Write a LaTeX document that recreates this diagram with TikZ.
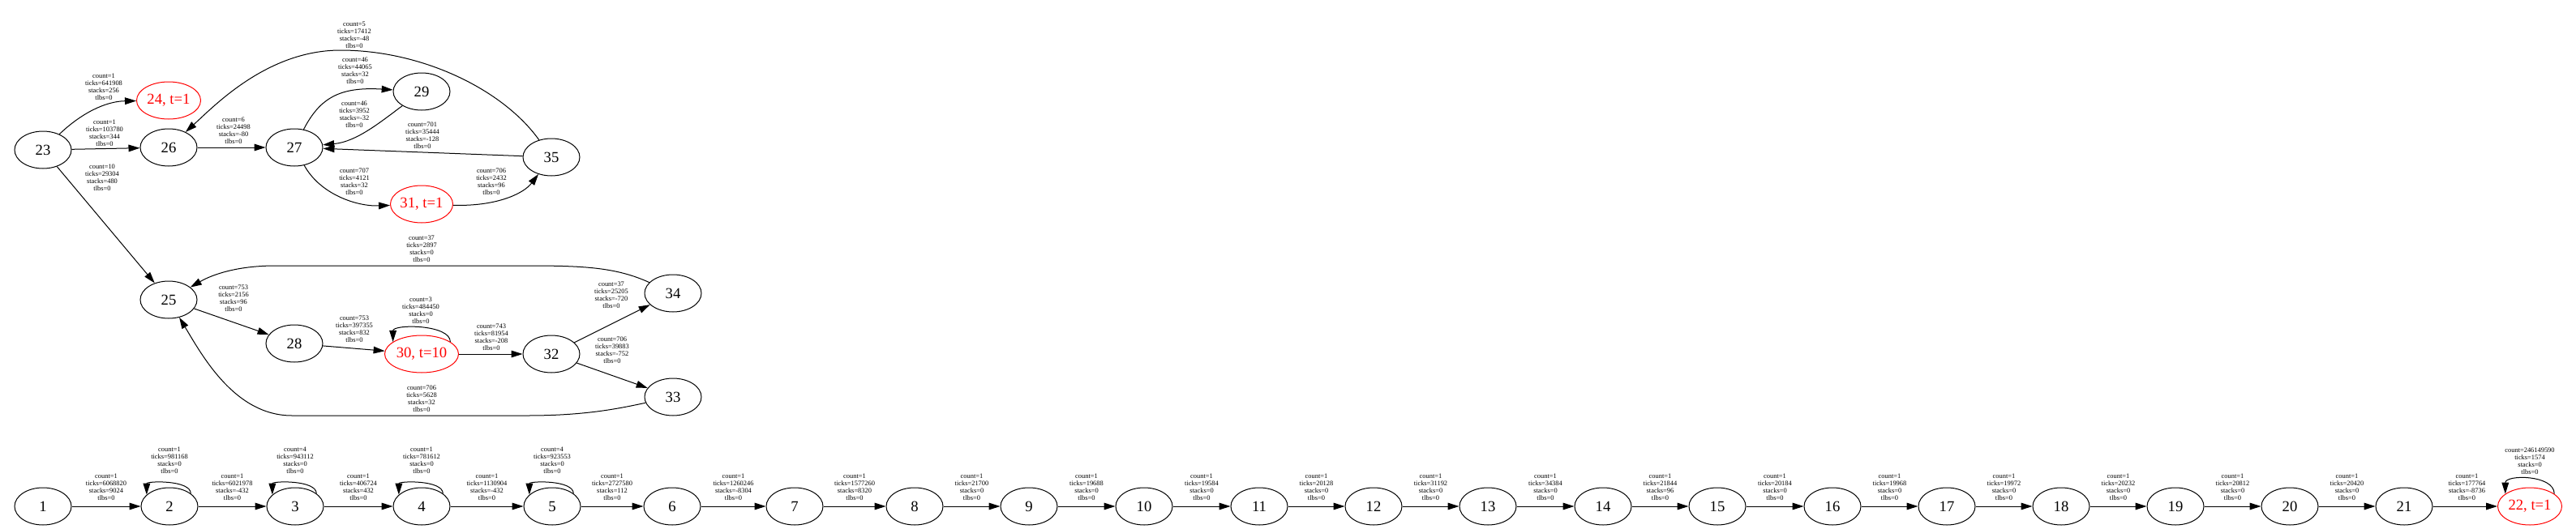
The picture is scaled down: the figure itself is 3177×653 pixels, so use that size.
\documentclass[tikz,border=0pt]{standalone}
\usepackage{fontspec}
\setmainfont{Liberation Serif}
\usetikzlibrary{shapes.geometric,arrows.meta,calc}
\newcommand{\elab}[3]{count=#1\\ticks=#2\\stacks=#3\\tlbs=0}
\tikzset{
  nd/.style={ellipse, draw, line width=0.75pt, minimum width=52.5pt, minimum height=34.5pt, inner sep=0pt, font=\fontsize{14}{16}\selectfont},
  rd/.style={nd, draw=red, text=red},
  lab/.style={align=center, inner sep=0pt, font=\fontsize{6.3}{6.8}\selectfont},
  edge/.style={draw, line width=0.75pt, -{Triangle[length=10.5pt,width=6.5pt]}}
}
\begin{document}
\begin{tikzpicture}[x=0.75pt,y=-0.75pt]
\useasboundingbox (0,0) rectangle (3177,653);
% ---------- upper graph ----------
\node[nd] (n23) at (53,185) {23};
\node[rd, minimum width=59.25pt] (n24) at (208,124) {24, t=1};
\node[nd] (n26) at (208,182) {26};
\node[nd] (n27) at (363,182) {27};
\node[nd] (n29) at (520,113) {29};
\node[nd] (n35) at (680,194) {35};
\node[rd, minimum width=57.75pt] (n31) at (520,252) {31, t=1};
\node[nd] (n25) at (208,370) {25};
\node[nd] (n28) at (363,424) {28};
\node[rd, minimum width=68.25pt] (n30) at (520,437) {30, t=10};
\node[nd] (n32) at (680,437) {32};
\node[nd] (n34) at (830,362) {34};
\node[nd] (n33) at (830,490) {33};

\draw[edge] (n23) .. controls (100,140) and (130,125) .. (n24);
\draw[edge] (n23) -- (n26);
\draw[edge] (n23) -- (n25);
\draw[edge] (n26) -- (n27);
\draw[edge] (n35) .. controls (620,110) and (520,62) .. (420,62) .. controls (330,62) and (265,130) .. (n26);
\draw[edge] (n27) .. controls (395,120) and (420,107) .. (n29);
\draw[edge] (n29) .. controls (470,150) and (440,175) .. (n27);
\draw[edge] (n35) -- (n27);
\draw[edge] (n27) .. controls (395,240) and (440,255) .. (n31);
\draw[edge] (n31) .. controls (610,255) and (645,240) .. (n35);
\draw[edge] (n34) .. controls (760,330) and (720,328) .. (650,328) -- (340,328) .. controls (290,328) and (260,340) .. (n25);
\draw[edge] (n25) -- (n28);
\draw[edge] (n28) -- (n30);
\draw[edge] (n30.23) .. controls +(0,-22) and +(0,-22) .. (n30.157);
\draw[edge] (n30) -- (n32);
\draw[edge] (n32) -- (n34);
\draw[edge] (n32) -- (n33);
\draw[edge] (n33) .. controls (760,505) and (720,513) .. (650,513) -- (360,513) .. controls (290,513) and (250,440) .. (n25);

\node[lab] (l2324) at (128,107.5) {\elab{1}{641908}{256}};
\node[lab] (l2326) at (129,164) {\elab{1}{103780}{344}};
\node[lab] (l2325) at (126,219) {\elab{10}{29304}{480}};
\node[lab] (l2627) at (288,161) {\elab{6}{24498}{-80}};
\node[lab] (l3526) at (437,43) {\elab{5}{17412}{-48}};
\node[lab] (l2729) at (438,87) {\elab{46}{44065}{32}};
\node[lab] (l2927) at (437,141) {\elab{46}{3952}{-32}};
\node[lab] (l3527) at (521,167) {\elab{701}{35444}{-128}};
\node[lab] (l2731) at (437,224) {\elab{707}{4121}{32}};
\node[lab] (l3135) at (606,224) {\elab{706}{2432}{96}};
\node[lab] (l3425) at (520,307.5) {\elab{37}{2897}{0}};
\node[lab] (l2528) at (288,368) {\elab{753}{2156}{96}};
\node[lab] (l2830) at (437,406) {\elab{753}{397355}{832}};
\node[lab] (l3030) at (519,383) {\elab{3}{484450}{0}};
\node[lab] (l3032) at (606,416.5) {\elab{743}{81954}{-208}};
\node[lab] (l3234) at (754,364.5) {\elab{37}{25205}{-720}};
\node[lab] (l3233) at (755,432) {\elab{706}{39883}{-752}};
\node[lab] (l3325) at (520,492) {\elab{706}{5628}{32}};

% ---------- chain ----------
\foreach \i/\x in {1/53,2/209,3/364,4/520,5/681,6/829,7/980,8/1128,9/1269,10/1411,11/1553,12/1694,13/1835,14/1977,15/2118,16/2260,17/2401,18/2542,19/2683,20/2824,21/2965}
  \node[nd] (c\i) at (\x,625) {\i};
\node[rd, minimum width=59.25pt] (c22) at (3120,625) {22, t=1};

\foreach \a/\b/\t/\s in {1/2/6068820/9024, 2/3/6021978/-432, 3/4/406724/432, 4/5/1130904/-432, 5/6/2727580/112, 6/7/1260246/-8304, 7/8/1577260/8320, 8/9/21700/0, 9/10/19688/0, 10/11/19584/0, 11/12/20128/0, 12/13/31192/0, 13/14/34384/0, 14/15/21844/96, 15/16/20184/0, 16/17/19968/0, 17/18/19972/0, 18/19/20232/0, 19/20/20812/0, 20/21/20420/0, 21/22/177764/-8736}
{
  \draw[edge] (c\a) -- (c\b);
  \node[lab] (e\a) at ($(c\a)!0.5!(c\b)+(0,-24)$) {\elab{1}{\t}{\s}};
}

\foreach \i/\c/\t in {2/1/981168, 3/4/943112, 4/1/781612, 5/4/923553}
{
  \draw[edge] (c\i.31) .. controls +(0,-17) and +(0,-17) .. (c\i.153);
  \node[lab] (s\i) at ($(c\i)+(0,-57)$) {\elab{\c}{\t}{0}};
}
\draw[edge] (c22.27) .. controls +(0,-24) and +(0,-24) .. (c22.153);
\node[lab] (s22) at ($(c22)+(0,-56)$) {\elab{246149590}{1574}{0}};
\end{tikzpicture}
\end{document}
